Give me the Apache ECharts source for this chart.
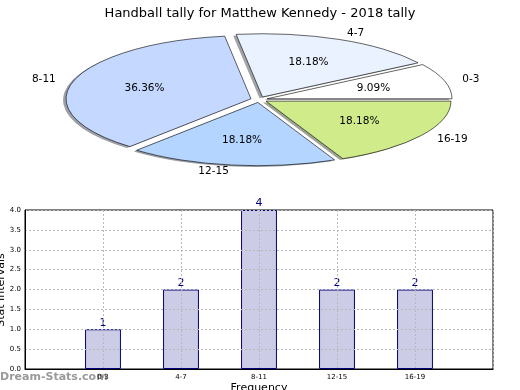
<!DOCTYPE html>
<html><head><meta charset="utf-8">
<script src="https://cdn.jsdelivr.net/npm/echarts@6/dist/echarts.min.js"></script>
<style>html,body{margin:0;padding:0;background:#fff}#c{width:520px;height:390px}</style>
</head><body><div id="c"></div>
<script>
const titleText = 'Handball tally for Matthew Kennedy - 2018 tally';
const categories = ['0-3', '4-7', '8-11', '12-15', '16-19'];
const values = [1, 2, 4, 2, 2];
const xAxisName = 'Frequency';
const yAxisName = 'Stat Intervals';

const pieColors = ['#ffffff', '#eaf1ff', '#c5d8ff', '#b3d5ff', '#d0ec8a'];
const PIE = { cx: 259, cy: 99.6, r: 185, k: 0.342, explode: 0.045 };
const FONT = 'DejaVu Sans';
const total = values.reduce((a, b) => a + b, 0);

function shadeOf(hex) {
  const n = parseInt(hex.slice(1), 16);
  const r = (n >> 16) & 255, g = (n >> 8) & 255, b = n & 255;
  return 'rgba(' + Math.round(r * 0.3) + ',' + Math.round(g * 0.3) + ',' + Math.round(b * 0.3) + ',0.5)';
}

function renderSlice(params, api) {
  const i = params.dataIndex;
  let before = 0;
  for (let j = 0; j < i; j++) before += values[j];
  const v = api.value(1);
  const a0 = before / total * 2 * Math.PI;
  const a1 = (before + v) / total * 2 * Math.PI;
  const mid = (a0 + a1) / 2;
  const R = PIE.r, k = PIE.k;
  const c = Math.cos(mid), s = Math.sin(mid);
  const ox = PIE.cx + PIE.explode * R * c;
  const oy = PIE.cy - PIE.explode * R * k * s;
  const shape = { cx: 0, cy: 0, r: R, r0: 0, startAngle: -a1, endAngle: -a0, clockwise: true };
  const pct = (v / total * 100).toFixed(2) + '%';
  return {
    type: 'group',
    children: [
      { type: 'sector', x: ox - 0.016 * R, y: oy + 0.02 * R * k, scaleY: k, shape: shape,
        style: { fill: shadeOf(pieColors[i]) }, z2: 0 },
      { type: 'sector', x: ox, y: oy, scaleY: k, shape: shape,
        style: { fill: pieColors[i], stroke: '#000', lineWidth: 0.9, strokeNoScale: true }, z2: 10 },
      { type: 'text', x: ox + 1.1 * R * c, y: oy - 1.1 * R * k * s,
        style: { text: categories[i], align: c > 0 ? 'left' : 'right', verticalAlign: 'middle',
                 fontSize: 10.5, fontFamily: FONT, fill: '#000' }, z2: 20 },
      { type: 'text', x: ox + 0.6 * R * c, y: oy - 0.6 * R * k * s,
        style: { text: pct, align: 'center', verticalAlign: 'middle',
                 fontSize: 10.5, fontFamily: FONT, fill: '#000' }, z2: 20 }
    ]
  };
}

const xCats = [''].concat(categories, ['']);
const barData = [null].concat(values, [null]);

const chart = echarts.init(document.getElementById('c'), null, { renderer: 'canvas' });
chart.setOption({
  animation: false,
  backgroundColor: '#fff',
  textStyle: { fontFamily: FONT },
  title: {
    text: titleText, left: 'center', top: 2,
    textStyle: { fontSize: 13, fontWeight: 'normal', color: '#000', fontFamily: FONT }
  },
  grid: { left: 25, right: 27, top: 210, bottom: 21, show: true, borderColor: '#000', borderWidth: 1,
          containLabel: false, outerBoundsMode: 'none' },
  xAxis: {
    type: 'category', data: xCats, boundaryGap: false, z: 5,
    axisLine: { lineStyle: { color: '#000', width: 1 } },
    axisTick: { show: false },
    axisLabel: { fontSize: 7, color: '#000', margin: 5, interval: 0, fontFamily: FONT },
    splitLine: { show: true, lineStyle: { color: '#b8b8b8', type: [2, 2], width: 1 } },
    name: xAxisName, nameLocation: 'middle', nameGap: 14,
    nameTextStyle: { fontSize: 11, color: '#000', fontFamily: FONT, verticalAlign: 'top' }
  },
  yAxis: {
    type: 'value', min: 0, max: 4, interval: 0.5, z: 5,
    axisLine: { show: true, lineStyle: { color: '#000', width: 1 } },
    axisTick: { show: false },
    axisLabel: { fontSize: 7, color: '#000', margin: 4, fontFamily: FONT, formatter: v => v.toFixed(1) },
    splitLine: { show: true, lineStyle: { color: '#b8b8b8', type: [2, 2], width: 1 } }
  },
  graphic: [{
    type: 'text', left: 0, top: 372, z: 1,
    style: { text: 'Dream-Stats.com', fontSize: 11, fontWeight: 'bold', fill: '#9a9a9a', fontFamily: FONT }
  }, {
    type: 'text', x: 7, y: 290, rotation: Math.PI / 2, z: 10,
    style: { text: yAxisName, fontSize: 11, fill: '#000', fontFamily: FONT, align: 'center', verticalAlign: 'bottom' }
  }],
  series: [
    {
      type: 'custom', coordinateSystem: 'none', renderItem: renderSlice,
      data: values.map((v, i) => [i, v]), silent: true
    },
    {
      type: 'bar', data: barData, barWidth: '46%',
      itemStyle: { color: '#ccccE6', borderColor: '#000080', borderWidth: 1 },
      label: { show: true, position: 'top', distance: 1, color: '#000080', fontSize: 11, fontFamily: FONT }
    }
  ]
});
</script></body></html>
